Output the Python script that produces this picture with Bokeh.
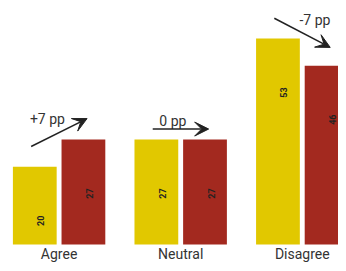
from bokeh.plotting import figure
from bokeh.models import Range1d, VeeHead, Arrow, ColumnDataSource
from bokeh.core.properties import value
from bokeh.embed import file_html
from bokeh.resources import INLINE

categories = ["Agree", "Neutral", "Disagree"]
before = [20, 27, 53]
after = [27, 27, 46]

YELLOW = "#E1C800"
RED = "#A3291F"

# annotation layout (offsets in data units)
arrow_lift_start = [5.2, 2.7, 5.2]
arrow_lift_end = [5.4, 2.7, 4.7]
arrow_dx = 0.23
label_dx = [-0.096, -0.064, 0.104]
label_dy = [0.0, 2.1, -0.5]

xs = list(range(len(categories)))
bw = 0.36

p = figure(width=338, height=263, output_backend="svg", toolbar_location=None,
           x_range=Range1d(-0.482, 2.298), y_range=Range1d(-4.89, 62.77),
           min_border=0, min_border_left=0, min_border_right=0,
           min_border_top=0, min_border_bottom=0)
p.outline_line_color = None
p.grid.visible = False
p.axis.visible = False
p.background_fill_color = "white"
p.border_fill_color = "white"

src_b = ColumnDataSource(dict(x=[x - 0.2 for x in xs], top=before,
                              lab=[str(v) for v in before]))
src_a = ColumnDataSource(dict(x=[x + 0.2 for x in xs], top=after,
                              lab=[str(v) for v in after]))
p.vbar(x="x", top="top", width=bw, bottom=0, source=src_b, color=YELLOW, line_color=None)
p.vbar(x="x", top="top", width=bw, bottom=0, source=src_a, color=RED, line_color=None)

for src in (src_b, src_a):
    p.text(x="x", y="top", text="lab", source=src, angle=1.5708,
           x_offset=6, y_offset=54, text_align="center", text_baseline="middle",
           text_font=value("Roboto"), text_font_style="bold", text_font_size="9px",
           text_color="#222222")

# change arrows
ann_x, ann_y, ann_t = [], [], []
for i, x in enumerate(xs):
    y0 = before[i] + arrow_lift_start[i]
    y1 = after[i] + arrow_lift_end[i]
    p.add_layout(Arrow(end=VeeHead(size=14, fill_color="#222222", line_color="#222222"),
                       x_start=x - arrow_dx, y_start=y0, x_end=x + arrow_dx, y_end=y1,
                       line_color="#222222", line_width=1.5))
    d = after[i] - before[i]
    ann_t.append(("+%d pp" % d) if d > 0 else ("%d pp" % d))
    ann_x.append(x + label_dx[i])
    ann_y.append(max(y0, y1) + label_dy[i])

p.text(x=ann_x, y=ann_y, text=ann_t, text_align="center", text_baseline="middle",
       text_font=value("Roboto"), text_font_size="14px", text_color="#333333")

# category labels under each group
p.text(x=xs, y=[0] * len(xs), text=categories, y_offset=2,
       text_align="center", text_baseline="top",
       text_font=value("Roboto"), text_font_size="14px", text_color="#333333")

open("out.html", "w").write(file_html(p, INLINE))
